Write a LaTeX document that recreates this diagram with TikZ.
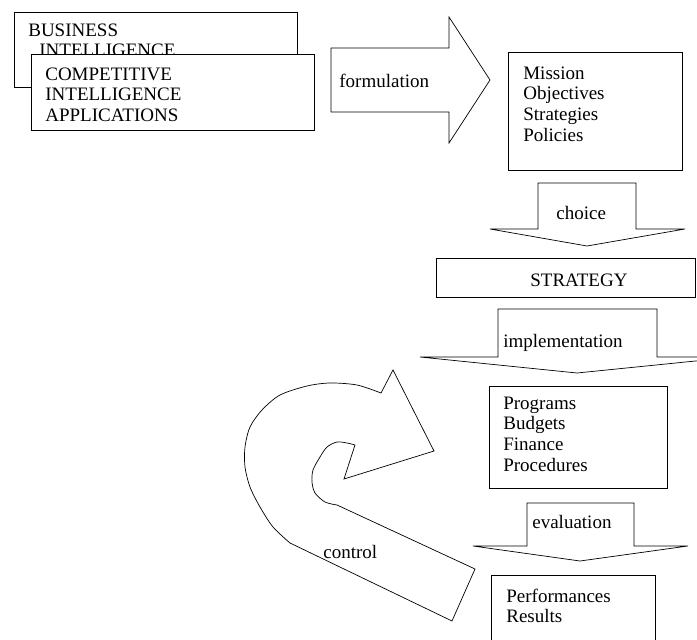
\documentclass[tikz,border=0pt]{standalone}
\usepackage{fontspec}
\setmainfont{Liberation Serif}

\tikzset{
  box/.style={draw, fill=white, anchor=north west, inner sep=0pt},
  blockarrow/.style={draw, fill=white},
  lbl/.style={anchor=base west, inner sep=0pt, align=left, font=\fontsize{19}{20.7}\selectfont},
}

\begin{document}
\begin{tikzpicture}[x=1pt, y=-1pt, line width=0.7pt]
  \path[use as bounding box, clip] (0,0) rectangle (697,640);

  % multi-line labels sit on the baseline of their last line
  \node[box, minimum width=283pt, minimum height=75pt] (bi) at (14,12) {};
  \node[lbl] (bitext) at (28,56.7) {BUSINESS\\\hspace*{11pt}INTELLIGENCE};
  \node[box, minimum width=283pt, minimum height=76pt] (cia) at (31,54) {};
  \node[lbl] (ciatext) at (45,121.4) {COMPETITIVE\\INTELLIGENCE\\APPLICATIONS};

  \draw[blockarrow] (331,48) -- (449,48) -- (449,17) -- (490,80) -- (449,143) -- (449,112) -- (331,112) -- cycle;
  \node[lbl] (formulation) at (339,87) {formulation};

  \node[box, minimum width=174pt, minimum height=118pt] (mission) at (508,52) {};
  \node[lbl] (missiontext) at (523,141.1) {Mission\\Objectives\\Strategies\\Policies};

  \draw[blockarrow] (538,183) -- (636,183) -- (636,229) -- (685,229) -- (587,246) -- (490,229) -- (538,229) -- cycle;
  \node[lbl] (choice) at (556,219) {choice};

  \node[box, minimum width=259pt, minimum height=39pt] (strategy) at (436,258) {};
  \node[lbl] (strategytext) at (530,286) {STRATEGY};

  \draw[blockarrow] (498,309) -- (657,309) -- (657,357) -- (735,357) -- (577,373) -- (420,357) -- (498,357) -- cycle;
  \node[lbl] (implementation) at (503,347) {implementation};

  \node[box, minimum width=178pt, minimum height=102pt] (programs) at (489,386) {};
  \node[lbl] (programstext) at (503,471.1) {Programs\\Budgets\\Finance\\Procedures};

  \draw[blockarrow] (527,503) -- (634,503) -- (634,546) -- (688,546) -- (580,561) -- (473,546) -- (527,546) -- cycle;
  \node[lbl] (evaluation) at (532,528) {evaluation};

  \node[box, minimum width=164pt, minimum height=80pt] (performances) at (491,575) {};
  \node[lbl] (performancestext) at (506,622.7) {Performances\\Results};

  \draw[blockarrow] (452,621) -- (290,543)
    -- plot[smooth] coordinates {(290,543) (273,527) (260,507) (250,487) (245,467) (245,447) (250,427) (262,410) (280,395) (307,386) (330,383) (357,385) (381,393)}
    -- (393,370) -- (434,451) -- (344,479) -- (355,445)
    -- plot[smooth] coordinates {(355,445) (347,443) (337,442) (327,447) (320,457) (313,470) (312,482) (315,493) (325,502) (337,505)}
    -- (475,569) -- cycle;
  \node[lbl] (control) at (323,558) {control};
\end{tikzpicture}
\end{document}
